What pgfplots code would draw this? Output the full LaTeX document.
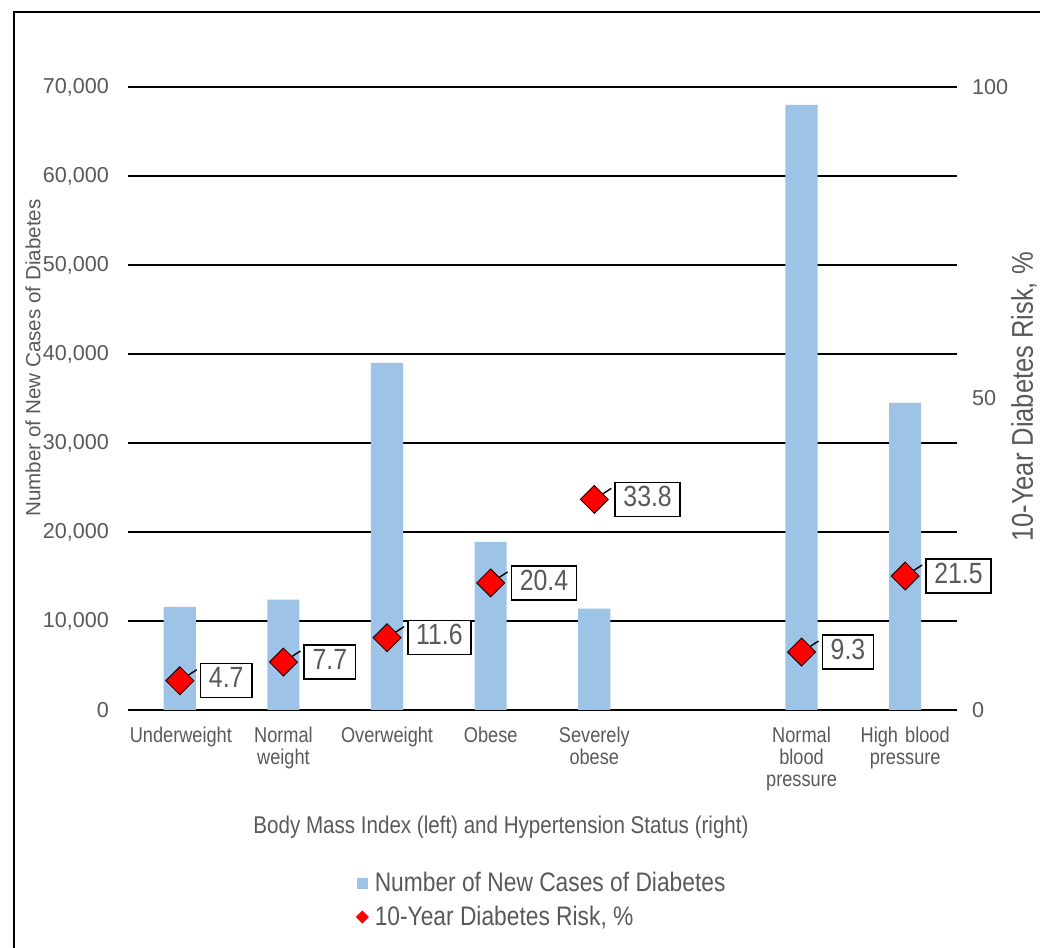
\documentclass[border=0pt]{standalone}
\usepackage{pgfplots}
\pgfplotsset{compat=1.18}
\usepackage{fontspec}
\setmainfont{Liberation Sans}
\newfontfamily\cnd{Liberation Sans}[FakeStretch=0.85]
\definecolor{barblue}{HTML}{9DC3E6}
\definecolor{txtgray}{HTML}{595959}
\definecolor{zerogray}{HTML}{D9D9D9}
\pgfplotsset{/pgf/number format/assume math mode=true}

\begin{document}
\begin{tikzpicture}
% left axis: number of new cases (bars)
\begin{axis}[
  scale only axis, width=414.5pt, height=311.5pt,
  at={(64pt,119pt)}, anchor=south west,
  xmin=-0.5, xmax=7.5, ymin=0, ymax=70000,
  axis line style={draw=none}, major tick length=0pt,
  xtick={0,1,2,3,4,6,7},
  xticklabels={Underweight,{Normal\\weight},Overweight,Obese,{Severely\\obese},{Normal\\blood\\pressure},{High blood\\pressure}},
  xticklabel style={align=center, text width=50pt, font=\cnd\fontsize{10.7pt}{11pt}\selectfont, text=txtgray, yshift=-5pt},
  ytick={10000,20000,...,70000},
  extra y ticks={0},
  extra y tick style={grid style={draw=zerogray, line width=0.7pt}},
  ymajorgrids, major grid style={black, line width=0.7pt},
  scaled y ticks=false,
  yticklabel style={/pgf/number format/fixed, /pgf/number format/1000 sep={,},
    font=\fontsize{10.8pt}{12pt}\selectfont, text=txtgray, xshift=-6pt},
]
\addplot[ybar, bar width=0.31, bar shift=0pt, fill=barblue, draw=none]
  coordinates {(0,11600) (1,12400) (2,39000) (3,18900) (4,11400) (6,68000) (7,34500)};
\end{axis}
% right axis: 10-year risk (diamonds)
\begin{axis}[
  scale only axis, width=414.5pt, height=311.5pt,
  at={(64pt,119pt)}, anchor=south west,
  xmin=-0.5, xmax=7.5, ymin=0, ymax=100,
  axis line style={draw=none}, major tick length=0pt,
  xtick=\empty,
  ytick={0,50,100}, yticklabel pos=right,
  yticklabel style={font=\fontsize{10.8pt}{12pt}\selectfont, text=txtgray, xshift=4pt},
  legend style={at={(0.2745,-0.2536)}, anchor=north west, draw=none, fill=none,
    font=\cnd\fontsize{13.4pt}{15pt}\selectfont, text=txtgray,
    row sep=1.5pt, column sep=1pt, inner sep=0pt},
  legend cell align=left,
]
\addlegendimage{legend image code/.code={\fill[barblue] (0pt,-2.5pt) rectangle (5pt,2.5pt);}}
\addlegendentry{Number of New Cases of Diabetes}
\addplot[only marks, mark=square*, mark size=4.95pt,
  mark options={rotate=45, fill=red, draw=none},
  legend image code/.code={\fill[red] (2.5pt,-3pt) -- (5.5pt,0pt) -- (2.5pt,3pt) -- (-0.5pt,0pt) -- cycle;},
  nodes near coords,
  every node near coord/.append style={anchor=west, xshift=10pt, draw=black, line width=0.75pt, fill=white,
    font=\cnd\fontsize{14.6pt}{16pt}\selectfont, text=txtgray,
    text height=0.72em, text depth=0pt, inner xsep=4.2pt, inner ysep=4.9pt,
    /pgf/number format/fixed, /pgf/number format/precision=1},
]
  coordinates {(0,4.7) (1,7.7) (2,11.6) (3,20.4) (4,33.8) (6,9.3) (7,21.5)};
\addlegendentry{10-Year Diabetes Risk, \%}
% leader lines from each marker to its label
\addplot[forget plot, quiver={u=0.164, v=1.77}, black, line width=0.7pt]
  coordinates {(0,4.7) (1,7.7) (2,11.6) (3,20.4) (4,33.8) (6,9.3) (7,21.5)};
\end{axis}
% titles
\node[font=\cnd\fontsize{12.1pt}{14pt}\selectfont, text=txtgray] at (250.5pt,60.5pt)
  {Body Mass Index (left) and Hypertension Status (right)};
\node[rotate=90, font=\fontsize{10.3pt}{12pt}\selectfont, text=txtgray] at (16.5pt,295pt)
  {Number of New Cases of Diabetes};
\node[rotate=90, font=\cnd\fontsize{15pt}{17pt}\selectfont, text=txtgray] at (512pt,275.5pt)
  {10-Year Diabetes Risk, \%};
% frame
\draw[black, line width=1pt] (7pt,0pt) -- (7pt,468pt) -- (520pt,468pt);
\pgfresetboundingbox
\useasboundingbox (0pt,0pt) rectangle (520pt,474pt);
\end{tikzpicture}
\end{document}
